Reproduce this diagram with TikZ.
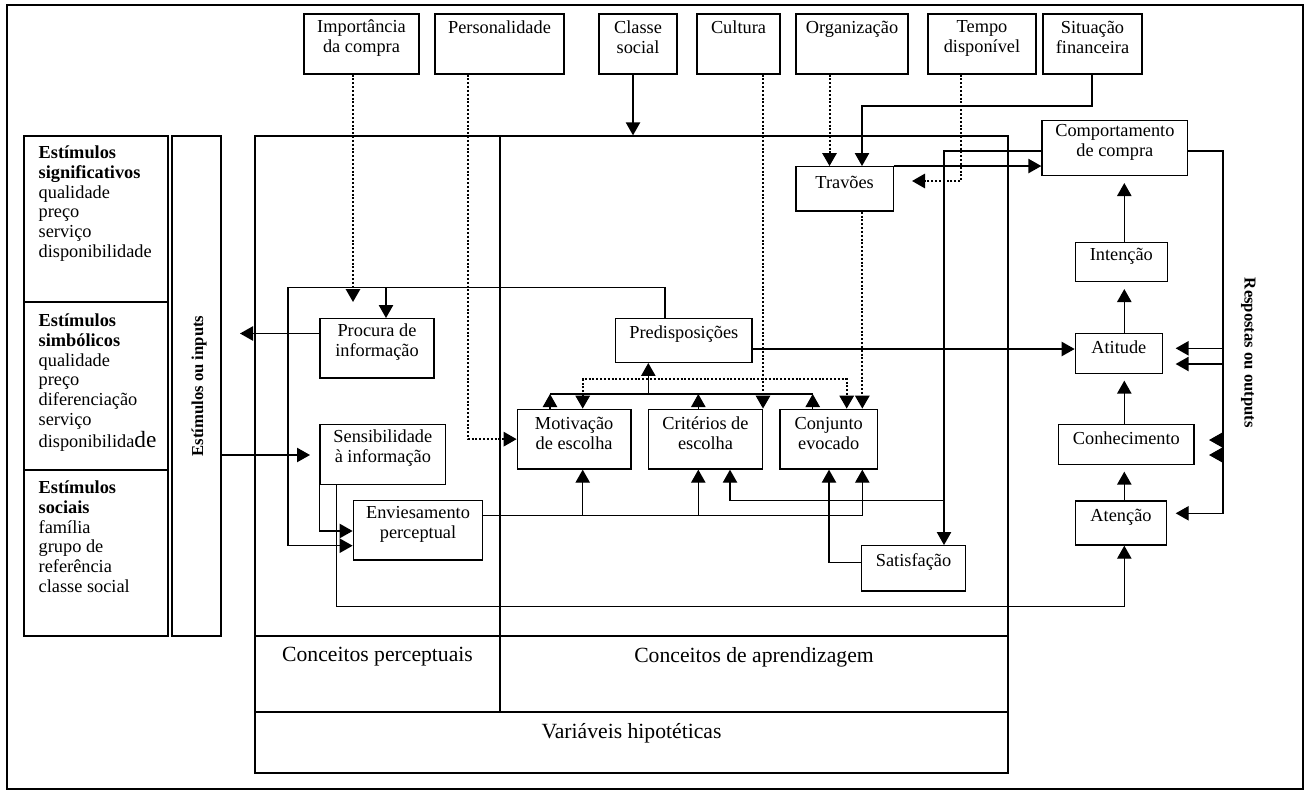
\documentclass[tikz,border=0pt]{standalone}
\usepackage{fontspec}
\setmainfont{Liberation Serif}
\usetikzlibrary{arrows.meta,fit}
\tikzset{
  box/.style={draw, inner sep=0pt, align=left},
  cbox/.style={box, align=center},
  txt/.style={inner sep=0pt, align=left, anchor=north west, font=\fontsize{11}{11.8}\selectfont},
  lbl/.style={inner sep=0pt, font=\fontsize{13}{15}\selectfont},
  vlabel/.style={inner sep=0pt, font=\bfseries\fontsize{10}{12}\selectfont},
  dotline/.style={dash pattern=on 1.2pt off 1.1pt, line width=1.2pt},
}
\begin{document}
\begin{tikzpicture}[x=0.6pt, y=-0.6pt, line width=0.8pt,
    >={Triangle[length=7.8pt,width=8.6pt]}, font=\fontsize{11}{12}\selectfont]
        \useasboundingbox (0,0) rectangle (1313,796);
        \draw[line width=1.3pt] (7,5) rectangle (1303,789);
        % exogenous variables
        \node[cbox, fit={(304,14) (419,74)}] (imp) {Importância\\da compra};
        \node[cbox, fit={(435,14) (564,74)}] (pers) {Personalidade\\~};
        \node[cbox, fit={(599,14) (677,74)}] (classe) {Classe\\social};
        \node[cbox, fit={(697,14) (780,74)}] (cultura) {Cultura\\~};
        \node[cbox, fit={(796,14) (908,74)}] (org) {Organização\\~};
        \node[cbox, fit={(928,14) (1036,74)}] (tempo) {Tempo\\disponível};
        \node[cbox, fit={(1043,14) (1142,74)}] (situ) {Situação\\financeira};
        % stimuli
        \node[box, fit={(24,136) (168,302)}] (estsig) {};
        \node[box, fit={(24,302) (168,470)}] (estsim) {};
        \node[box, fit={(24,470) (168,636)}] (estsoc) {};
        \node[txt] (sigtxt) at (38,145.5) {\textbf{Estímulos}\\\textbf{significativos}\\qualidade\\preço\\serviço\\disponibilidade};
        \node[txt] (simtxt) at (38,313.5) {\textbf{Estímulos}\\\textbf{simbólicos}\\qualidade\\preço\\diferenciação\\serviço\\disponibilida{\fontsize{14}{14}\selectfont de}};
        \node[txt] (soctxt) at (38,480.5) {\textbf{Estímulos}\\\textbf{sociais}\\família\\grupo de\\referência\\classe social};
        \node[box, fit={(172,136) (221,636)}] (inputs) {};
        \node[vlabel, rotate=90] (inputslbl) at (199,386) {Estímulos ou inputs};
        % hypothetical variables
        \node[box, fit={(255,136) (500,712)}] (percep) {};
        \node[box, fit={(500,136) (1008,712)}] (aprend) {};
        \node[box, fit={(255,712) (1008,773)}] (varhip) {};
        \draw (percep.west |- 0,636) -- (aprend.east |- 0,636);
        \node[lbl] (perclbl) at (377.5,657) {Conceitos perceptuais};
        \node[lbl] (aprlbl) at (754,657) {Conceitos de aprendizagem};
        \node[lbl] (varlbl) at (631.5,733) {Variáveis hipotéticas};
        \node[box, fit={(320,318.7) (434,378)}] (procura) {Procura de\\informação};
        \node[box, fit={(320,424.3) (445.7,484.3)}] (sensib) {Sensibilidade\\à informação};
        \node[box, fit={(353.3,500.7) (482.7,560)}] (envies) {Enviesamento\\perceptual};
        \node[box, fit={(615.7,318.3) (752,362.3)}] (predisp) {Predisposições};
        \node[box, fit={(517.3,409.3) (631,469)}] (motiv) {Motivação\\de escolha};
        \node[box, fit={(648.7,409.3) (762.3,469)}] (criter) {Critérios de\\escolha};
        \node[box, fit={(780,409.3) (877.3,469)}] (conj) {Conjunto\\evocado};
        \node[box, fit={(796,166.7) (893.3,211)}] (travoes) {Travões};
        \node[box, fit={(861.7,545.7) (965.3,591)}] (satisf) {Satisfação};
        % responses
        \node[cbox, fit={(1042,120.7) (1187.7,175.7)}] (comport) {Comportamento\\de compra};
        \node[box, fit={(1075.3,242.7) (1167.3,281.7)}] (intenc) {Intenção};
        \node[box, fit={(1075.3,333.7) (1162.3,373.3)}] (atitude) {Atitude};
        \node[box, fit={(1058.7,424.3) (1194,464.3)}] (conhec) {Conhecimento};
        \node[box, fit={(1075.3,501) (1166.7,545)}] (atenc) {Atenção};
        \node[vlabel, rotate=-90] (outputs) at (1248.3,353) {Respostas ou outputs};
        \coordinate (impend) at (353,302);
        \coordinate (tempoend) at (912,181);
        \coordinate (procend) at (240,333.5);
        \coordinate (sensend) at (310,455);
        \coordinate (col) at (648.3,394);
        % influences from the top
        \draw[dotline, ->] (imp.south -| impend) -- (impend);
        \draw[dotline, ->] (pers.south -| 468,0) |- (motiv.west);
        \draw[->] (classe.south -| 633,0) -- (aprend.north -| 633,0);
        \draw[dotline, ->] (cultura.south -| 763,0) -- (criter.north -| 763,0);
        \draw[dotline, ->] (org.south -| 829.5,0) -- (travoes.north -| 829.5,0);
        \draw[dotline, ->] (tempo.south -| 961,0) |- (tempoend);
        \draw[->] (situ.south -| 1092,0) -- (1092,106) -| (travoes.north -| 862,0);
        \draw[dotline, ->] (travoes.south -| 862.3,0) -- (conj.north -| 862.3,0);
        \draw[->] (travoes.north east) -- (comport.west |- travoes.north east);
        % perceptual side
        \draw[->] (procura.west |- procend) -- (procend);
        \draw[->] (inputs.east |- sensend) -- (sensend);
        \draw[->] (predisp.north -| 665,0) |- (288,287.3) |- (envies.west |- 0,545.7);
        \draw[->] (386,287.3) -- (procura.north -| 386,0);
        \draw[->] (sensib.south west) |- (envies.west |- 0,531);
        \draw[->] (sensib.south -| 336.7,0) |- (1124.3,606.7) -- (atenc.south -| 1124.3,0);
        \draw[->] (envies.east |- 0,515.7) -| (conj.south -| 862.3,0);
        \foreach \xx/\nd in {582.7/motiv, 698.3/criter}
            \draw[->] (\xx,515.7) -- (\nd.south -| \xx,0);
        % learning side
        \foreach \xx/\nd in {550/motiv, 698.3/criter, 812.7/conj}
            \draw[->] (\nd.north -| \xx,0) -- (\xx,394);
        \draw (550,394) -- (812.7,394);
        \draw[->] (col) -- (predisp.south -| col);
        \draw[dotline, <->] (motiv.north -| 582.7,0) |- (846.7,379) -- (conj.north -| 846.7,0);
        \draw[->] (predisp.east |- 0,349) -- (atitude.west |- 0,349);
        \draw[->] (comport.west |- 0,151) -| (satisf.north -| 944,0);
        \draw[->] (944,500.7) -| (criter.south -| 730,0);
        \draw[->] (satisf.west |- 0,562.3) -| (conj.south -| 829,0);
        % response chain
        \foreach \a/\b in {intenc/comport, atitude/intenc, conhec/atitude, atenc/conhec}
            \draw[->, shorten >=4pt] (\a.north -| 1124.3,0) -- (\b.south -| 1124.3,0);
        \draw[->, shorten >=5pt] (comport.east |- 0,151) -| (1223,513.3) -- (atenc.east |- 0,513.3);
        \foreach \yy in {348.3, 364}
            \draw[->, shorten >=7.6pt] (1223,\yy) -- (atitude.east |- 0,\yy);
        \foreach \yy in {440, 455}
            \draw[->, shorten >=8.6pt] (1223,\yy) -- (conhec.east |- 0,\yy);
    \end{tikzpicture}
\end{document}
